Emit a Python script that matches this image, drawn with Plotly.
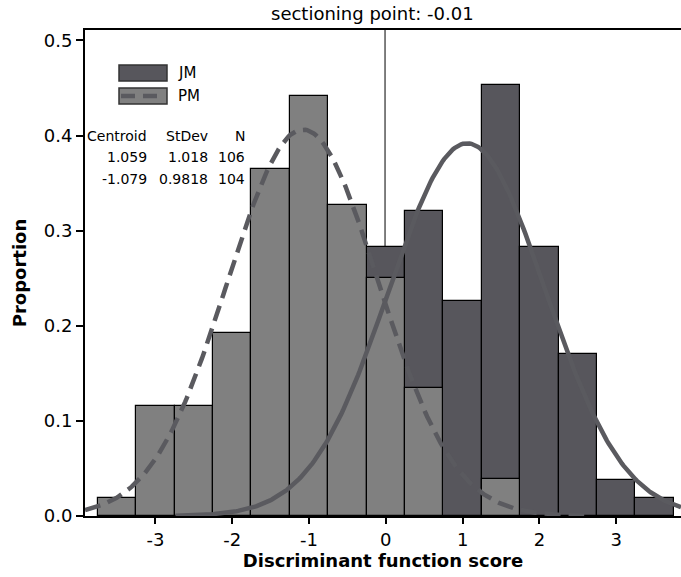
import numpy as np
import plotly.graph_objects as go

# ---------------- data ----------------
groups = ["JM", "PM"]
centroids = [1.059, -1.079]
stdevs = [1.018, 0.9818]
counts_n = [106, 104]
sectioning_point = -0.01

bin_width = 0.5
jm_centers = [0.0, 0.5, 1.0, 1.5, 2.0, 2.5, 3.0, 3.5]
jm_props = [0.283, 0.321, 0.226, 0.453, 0.283, 0.170, 0.0377, 0.0189]
pm_centers = [-3.5, -3.0, -2.5, -2.0, -1.5, -1.0, -0.5, 0.0, 0.5, 1.5]
pm_props = [0.0192, 0.1154, 0.1154, 0.1923, 0.365, 0.442, 0.327, 0.250, 0.1346, 0.0385]

x_ticks = [-3, -2, -1, 0, 1, 2, 3]
y_ticks = [0.0, 0.1, 0.2, 0.3, 0.4, 0.5]
x_range = [-3.917, 3.844]
y_range = [0, 0.511]

# ---------------- style ----------------
FONT = "DejaVu Sans"
JM_COL = "#57565c"
PM_COL = "#808080"
CURVE_COL = "#5a5a5f"
W, H = 681, 577
L, R, T, B = 85, 0, 30, 61


def px(xpix):
    return (xpix - L) / (W - L - R)


def py(ypix):
    return (H - B - ypix) / (H - T - B)


fig = go.Figure()

fig.add_trace(go.Bar(x=jm_centers, y=jm_props, width=bin_width, name="JM",
                     marker=dict(color=JM_COL, line=dict(color="black", width=1.2)),
                     showlegend=False))
fig.add_trace(go.Bar(x=pm_centers, y=pm_props, width=bin_width, name="PM",
                     marker=dict(color=PM_COL, line=dict(color="black", width=1.2)),
                     showlegend=False))

# fitted normal curves from centroid / stdev
dashes = ["solid", "16px,8px"]
for g, m, s, d in zip(groups, centroids, stdevs, dashes):
    lo = max(m - 3.73 * s, x_range[0])
    hi = min(m + 3.73 * s, x_range[1])
    xs = np.linspace(lo, hi, 300)
    ys = np.exp(-0.5 * ((xs - m) / s) ** 2) / (s * np.sqrt(2 * np.pi))
    fig.add_trace(go.Scatter(x=xs, y=ys, mode="lines", showlegend=False,
                             line=dict(color=CURVE_COL, width=4.5, dash=d),
                             hoverinfo="skip"))

# sectioning line
fig.add_shape(type="line", x0=sectioning_point, x1=sectioning_point, y0=0, y1=y_range[1],
              xref="x", yref="y", layer="below", line=dict(color="#555555", width=1.5))

# title
fig.add_annotation(text=f"sectioning point: {sectioning_point}", xref="paper", yref="paper",
                   x=px(372.5), y=py(14), showarrow=False, xanchor="center", yanchor="middle",
                   font=dict(family=FONT, size=18, color="black"))

# legend (custom)
sw_cols = [JM_COL, PM_COL]
sw_y = [73, 96]
for g, c, yc, d in zip(groups, sw_cols, sw_y, dashes):
    fig.add_shape(type="rect", xref="paper", yref="paper", x0=px(119), x1=px(167),
                  y0=py(yc - 8), y1=py(yc + 8), fillcolor=c, line=dict(color="#333333", width=1.5))
    if d != "solid":
        fig.add_shape(type="line", xref="paper", yref="paper", x0=px(121), x1=px(165),
                      y0=py(yc), y1=py(yc), line=dict(color=CURVE_COL, width=4.5, dash="14px,8px"))
    fig.add_annotation(text=g, xref="paper", yref="paper", x=px(176), y=py(yc),
                       showarrow=False, xanchor="left", yanchor="middle",
                       font=dict(family=FONT, size=15, color="black"))

# stats table
tf = dict(family=FONT, size=14, color="black")
hdr_y = 136
fig.add_annotation(text="Centroid", xref="paper", yref="paper", x=px(149), y=py(hdr_y),
                   showarrow=False, xanchor="right", yanchor="middle", font=tf)
fig.add_annotation(text="StDev", xref="paper", yref="paper", x=px(210), y=py(hdr_y),
                   showarrow=False, xanchor="right", yanchor="middle", font=tf)
fig.add_annotation(text="N", xref="paper", yref="paper", x=px(247), y=py(hdr_y),
                   showarrow=False, xanchor="right", yanchor="middle", font=tf)
for i, (m, s, n) in enumerate(zip(centroids, stdevs, counts_n)):
    yy = 157 + 22 * i
    for txt, xr in [(f"{m}", 149), (f"{s}", 210), (f"{n}", 247)]:
        fig.add_annotation(text=txt, xref="paper", yref="paper", x=px(xr), y=py(yy),
                           showarrow=False, xanchor="right", yanchor="middle", font=tf)

fig.update_layout(
    width=W, height=H,
    margin=dict(l=L, r=R, t=T, b=B),
    paper_bgcolor="white", plot_bgcolor="white",
    barmode="overlay", bargap=0,
    font=dict(family=FONT, color="black"),
    xaxis=dict(range=x_range, tickvals=x_ticks, ticktext=[str(v) for v in x_ticks],
               showgrid=False, zeroline=False, showline=True, linecolor="black", linewidth=2,
               mirror=True, ticks="outside", ticklen=6, tickwidth=2, tickcolor="black",
               tickfont=dict(family=FONT, size=18, color="black"),
               title=dict(text="<b>Discriminant function score</b>", standoff=6,
                          font=dict(family=FONT, size=18, color="black"))),
    yaxis=dict(range=y_range, tickvals=y_ticks, tickformat=".1f",
               showgrid=False, zeroline=False, showline=True, linecolor="black", linewidth=2,
               ticks="outside", ticklen=7, tickwidth=2, tickcolor="black",
               tickfont=dict(family=FONT, size=18, color="black"),
               title=dict(text="<b>Proportion</b>", standoff=12,
                          font=dict(family=FONT, size=18, color="black"))),
)

fig.write_html(
    "out.html",
    config={"displayModeBar": False},
    post_script="document.body.style.margin='0px';document.body.style.padding='0px';"
                "document.documentElement.style.overflow='hidden';",
)
